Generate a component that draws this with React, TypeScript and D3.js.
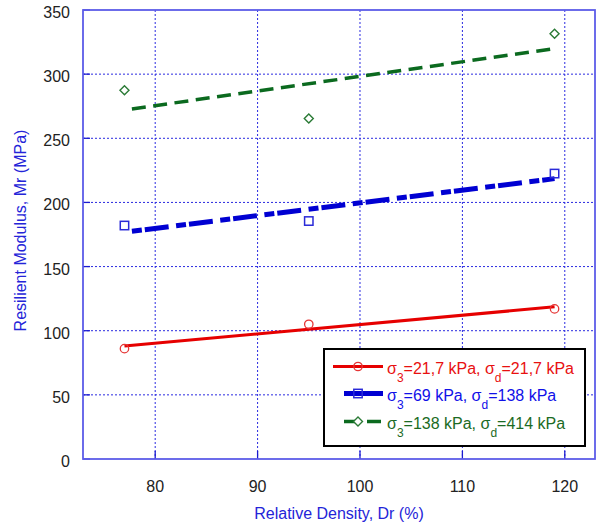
import React from "react";
import * as d3 from "d3";

const densities = [77, 95, 119];
const seriesRed = [86, 105, 117];
const seriesBlue = [182, 185.5, 222.5];
const seriesGreen = [287.5, 265.5, 331.5];
const xTicks = [80, 90, 100, 110, 120];
const yTicks = [0, 50, 100, 150, 200, 250, 300, 350];

const W = 597;
const H = 525;
const left = 83;
const right = 595;
const top = 10;
const bottom = 459;

const x = d3.scaleLinear().domain([72.95, 122.95]).range([left, right]);
const y = d3.scaleLinear().domain([0, 350]).range([bottom, top]);

function fit(xs: number[], ys: number[]) {
  const mx = d3.mean(xs)!;
  const my = d3.mean(ys)!;
  let sxy = 0, sxx = 0;
  xs.forEach((v, i) => {
    sxy += (v - mx) * (ys[i] - my);
    sxx += (v - mx) * (v - mx);
  });
  const b = sxy / sxx;
  const a = my - b * mx;
  const x0 = d3.min(xs)!;
  const x1 = d3.max(xs)!;
  return [
    [x0, a + b * x0],
    [x1, a + b * x1],
  ] as [number, number][];
}

const line = d3
  .line<[number, number]>()
  .x((d) => x(d[0]))
  .y((d) => y(d[1]));

const RED = "#e60000";
const BLUE = "#0000d2";
const GREEN = "#0b6a1f";
const GRID = "#2a2ae0";
const FONT = "Liberation Sans, Arial, sans-serif";

const series = [
  { values: seriesRed, color: RED, width: 3, dash: undefined as string | undefined, offset: 0, marker: "circle", s3: "21,7", sd: "21,7", textColor: "#e81010", lx0: 333, lx1: 383, ldash: undefined as string | undefined },
  { values: seriesBlue, color: BLUE, width: 5, dash: "24 7.5 10 3", offset: 24, marker: "square", s3: "69", sd: "138", textColor: "#1010e8", lx0: 344, lx1: 383, ldash: undefined },
  { values: seriesGreen, color: GREEN, width: 3.5, dash: "14 7.5", offset: 14, marker: "diamond", s3: "138", sd: "414", textColor: "#1b6b24", lx0: 344, lx1: 381, ldash: "14 9 14" },
];

function Marker({ kind, cx, cy }: { kind: string; cx: number; cy: number }) {
  if (kind === "circle")
    return <circle cx={cx} cy={cy} r={4.2} fill="none" stroke="#e53535" strokeWidth={1.3} />;
  if (kind === "square")
    return <rect x={cx - 4.2} y={cy - 4.2} width={8.4} height={8.4} fill="none" stroke="#2a2ad8" strokeWidth={1.5} />;
  return (
    <path
      d={`M${cx},${cy - 4.5}L${cx + 4.5},${cy}L${cx},${cy + 4.5}L${cx - 4.5},${cy}Z`}
      fill="#fff"
      stroke="#2a7a35"
      strokeWidth={1.4}
    />
  );
}

export default function App() {
  const legendX = 324;
  const legendY = 349;
  const legendRows = [366.5, 393.5, 421.5];
  return (
    <svg
      width={W}
      height={H}
      style={{ position: "absolute", left: 0, top: 0, background: "#fff" }}
      fontFamily={FONT}
    >
      <rect x={0} y={0} width={W} height={H} fill="#fff" />
      {/* grid */}
      {xTicks.map((t) => (
        <line key={"gx" + t} x1={x(t)} x2={x(t)} y1={top} y2={bottom} stroke={GRID} strokeWidth={1} strokeDasharray="2 2" />
      ))}
      {yTicks.filter((t) => t > 0 && t < 350).map((t) => (
        <line key={"gy" + t} x1={left} x2={right} y1={y(t)} y2={y(t)} stroke={GRID} strokeWidth={1} strokeDasharray="2 2" />
      ))}
      {/* ticks */}
      {yTicks.map((t) => (
        <line key={"ty" + t} x1={left} x2={left + 7} y1={y(t)} y2={y(t)} stroke="#1a1ad0" strokeWidth={1.3} />
      ))}
      {xTicks.map((t) => (
        <line key={"tx" + t} x1={x(t)} x2={x(t)} y1={bottom} y2={bottom - 8} stroke="#1a1ad0" strokeWidth={1.3} />
      ))}
      {/* frame */}
      <rect x={left} y={top} width={right - left} height={bottom - top} fill="none" stroke="#5c5ce8" strokeWidth={1.8} />
      {/* tick labels */}
      {yTicks.map((t) => (
        <text key={"ly" + t} x={70} y={y(t) + 8} textAnchor="end" fontSize={16} fill="#222">
          {t}
        </text>
      ))}
      {xTicks.map((t) => (
        <text key={"lx" + t} x={x(t)} y={492} textAnchor="middle" fontSize={16} fill="#222">
          {t}
        </text>
      ))}
      {/* axis titles */}
      <text x={(left + right) / 2} y={519} textAnchor="middle" fontSize={16} fill="#2424d8">
        Relative Density, Dr (%)
      </text>
      <text
        transform={`translate(26, ${(top + bottom) / 2 - 4}) rotate(-90)`}
        textAnchor="middle"
        fontSize={16}
        fill="#2424d8"
      >
        Resilient Modulus, Mr (MPa)
      </text>
      {/* fit lines */}
      {series.map((s, i) => (
        <path
          key={"fit" + i}
          d={line(fit(densities, s.values)) || ""}
          fill="none"
          stroke={s.color}
          strokeWidth={s.width}
          strokeDasharray={s.dash}
          strokeDashoffset={s.offset}
        />
      ))}
      {/* markers */}
      {series.map((s, i) =>
        s.values.map((v, j) => (
          <Marker key={`m${i}-${j}`} kind={s.marker} cx={x(densities[j])} cy={y(v)} />
        ))
      )}
      {/* legend */}
      <rect x={legendX} y={legendY} width={261} height={97} fill="#fff" stroke="#000" strokeWidth={2} />
      {series.map((s, i) => (
        <g key={"leg" + i}>
          <line
            x1={s.lx0}
            x2={s.lx1}
            y1={legendRows[i]}
            y2={legendRows[i]}
            stroke={s.color}
            strokeWidth={s.width}
            strokeDasharray={s.ldash}
          />
          <Marker kind={s.marker} cx={358} cy={legendRows[i]} />
          <text x={387} y={legendRows[i] + 7} fontSize={16} fill={s.textColor}>
            <tspan>σ</tspan>
            <tspan fontSize={12} dy={8}>3</tspan>
            <tspan dy={-8}>{`=${s.s3} kPa, σ`}</tspan>
            <tspan fontSize={12} dy={8}>d</tspan>
            <tspan dy={-8}>{`=${s.sd} kPa`}</tspan>
          </text>
        </g>
      ))}
    </svg>
  );
}
